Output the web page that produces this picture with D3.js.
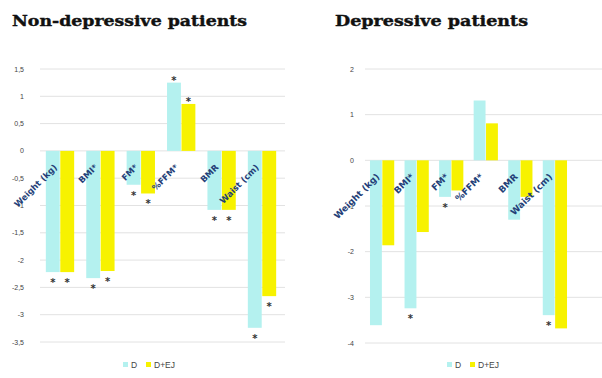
<!DOCTYPE html>
<html>
<head>
<meta charset="utf-8">
<script src="https://cdn.jsdelivr.net/npm/d3@7/dist/d3.min.js"></script>
<style>
  html, body { margin: 0; padding: 0; background: #fff; }
  svg { display: block; }
</style>
</head>
<body>
<svg id="chart" width="602" height="378"></svg>
<script>
// Change from baseline per measure, for diet alone (D) and diet plus exercise (D+EJ)
const categories = ["Weight (kg)", "BMI*", "FM*", "%FFM*", "BMR", "Waist (cm)"];
const seriesNames = ["D", "D+EJ"];

const nonDepD  = [-2.22, -2.33, -0.62, 1.25, -1.08, -3.24];
const nonDepDE = [-2.22, -2.20, -0.78, 0.86, -1.08, -2.66];
const nonDepStarD  = [true, true, true, true, true, true];
const nonDepStarDE = [true, true, true, true, true, true];
const nonDepTicks = [-3.5, -3, -2.5, -2, -1.5, -1, -0.5, 0, 0.5, 1, 1.5];

const depD  = [-3.61, -3.24, -0.80, 1.31, -1.30, -3.39];
const depDE = [-1.86, -1.57, -0.66, 0.81, -0.80, -3.68];
const depStarD  = [false, true, true, false, false, true];
const depStarDE = [false, false, false, false, false, false];
const depTicks = [-4, -3, -2, -1, 0, 1, 2];

const colors = { "D": "#b4f1ef", "D+EJ": "#f7f200" };

const svg = d3.select("#chart");
const fmt = v => String(v).replace(".", ",");

function panel(opts) {
  const g = svg.append("g");

  g.append("text")
    .attr("x", opts.titleX).attr("y", 26)
    .attr("font-family", "DejaVu Serif")
    .attr("font-weight", "bold")
    .attr("font-size", 15)
    .attr("fill", "#111")
    .attr("stroke", "#111").attr("stroke-width", 0.4)
    .attr("textLength", opts.titleLen)
    .attr("lengthAdjust", "spacingAndGlyphs")
    .text(opts.title);

  const y = d3.scaleLinear().domain(opts.yDomain).range(opts.yRange);
  const x = d3.scaleBand().domain(categories).range(opts.xRange)
    .paddingInner(0.27).paddingOuter(0.13);
  const xs = d3.scaleBand().domain(seriesNames).range([0, x.bandwidth()]).padding(0.04);

  // gridlines
  g.selectAll("line.grid").data(opts.ticks).join("line")
    .attr("x1", opts.gridX[0]).attr("x2", opts.gridX[1])
    .attr("y1", d => y(d)).attr("y2", d => y(d))
    .attr("stroke", "#e2e2e2").attr("stroke-width", 1);

  // tick labels
  g.selectAll("text.tick").data(opts.ticks).join("text")
    .attr("x", opts.tickX).attr("y", d => y(d) + 2.5)
    .attr("text-anchor", "end")
    .attr("font-family", "Liberation Sans, Arial, sans-serif")
    .attr("font-size", 7)
    .attr("fill", "#444")
    .text(fmt);

  const rows = categories.map((c, i) => ({
    c, i,
    vals: [
      { s: "D", v: opts.d[i], star: opts.starD[i] },
      { s: "D+EJ", v: opts.de[i], star: opts.starDE[i] }
    ]
  }));

  const grp = g.selectAll("g.cat").data(rows).join("g")
    .attr("transform", r => `translate(${x(r.c)},0)`);

  grp.selectAll("rect").data(r => r.vals).join("rect")
    .attr("x", d => xs(d.s))
    .attr("width", xs.bandwidth())
    .attr("y", d => Math.min(y(0), y(d.v)))
    .attr("height", d => Math.abs(y(d.v) - y(0)))
    .attr("fill", d => colors[d.s]);

  grp.selectAll("text.star").data(r => r.vals.filter(d => d.star)).join("text")
    .attr("x", d => xs(d.s) + xs.bandwidth() / 2)
    .attr("y", d => d.v < 0 ? y(d.v) + 14 : y(d.v) + 1)
    .attr("text-anchor", "middle")
    .attr("font-family", "DejaVu Sans")
    .attr("font-weight", "bold")
    .attr("font-size", 10)
    .attr("fill", "#333")
    .text("*");

  // category labels, slanted, hanging below the zero line
  grp.append("text")
    .attr("transform", r => `translate(${xs("D") + xs.bandwidth() * 0.85},${y(0) + 17}) rotate(-45)`)
    .attr("text-anchor", "end")
    .attr("font-family", "DejaVu Sans")
    .attr("font-weight", "bold")
    .attr("font-size", opts.labelSize)
    .attr("fill", "#243f78")
    .text(r => r.c);

  // legend
  const lg = g.append("g").attr("transform", `translate(${opts.legendX},365)`);
  let lx = 0;
  seriesNames.forEach(s => {
    lg.append("rect").attr("x", lx).attr("y", -3).attr("width", 5).attr("height", 5)
      .attr("fill", colors[s]);
    lg.append("text").attr("x", lx + 8).attr("y", 3)
      .attr("font-family", "Liberation Sans, Arial, sans-serif")
      .attr("font-size", 8.5).attr("fill", "#444")
      .text(s);
    lx += s === "D" ? 23 : 0;
  });
}

panel({
  title: "Non-depressive patients", titleX: 12, titleLen: 235,
  yDomain: [-3.5, 1.5], yRange: [342, 69], ticks: nonDepTicks,
  xRange: [40, 282], gridX: [40, 285], tickX: 24, labelSize: 8.5,
  d: nonDepD, de: nonDepDE, starD: nonDepStarD, starDE: nonDepStarDE,
  legendX: 123
});

panel({
  title: "Depressive patients", titleX: 335, titleLen: 193,
  yDomain: [-4, 2], yRange: [343, 69], ticks: depTicks,
  xRange: [365, 572], gridX: [365, 602], tickX: 354, labelSize: 9,
  d: depD, de: depDE, starD: depStarD, starDE: depStarDE,
  legendX: 447
});
</script>
</body>
</html>
